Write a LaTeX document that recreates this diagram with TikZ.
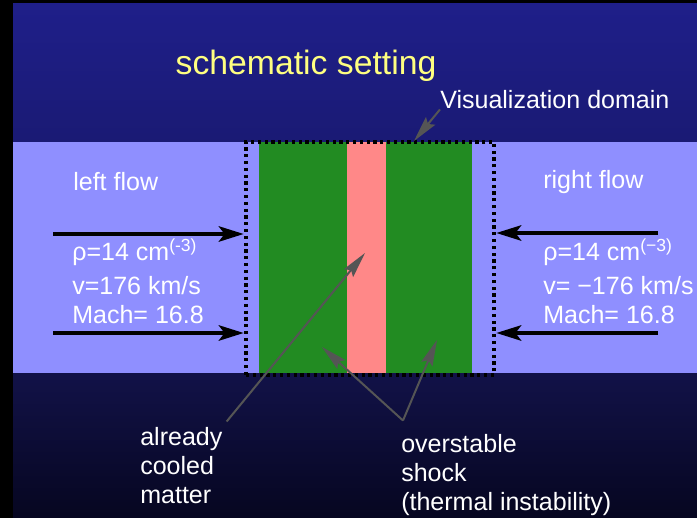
\documentclass[tikz,border=0pt]{standalone}
\usepackage{fontspec}
\setmainfont{Liberation Sans}
\usetikzlibrary{arrows.meta, positioning, calc}

\definecolor{skytop}{RGB}{31, 31, 138}
\definecolor{skylow}{RGB}{26, 26, 116}
\definecolor{deeptop}{RGB}{18, 18, 72}
\definecolor{deeplow}{RGB}{6, 6, 32}
\definecolor{flowblue}{RGB}{143, 143, 255}
\definecolor{slabgreen}{RGB}{34, 139, 34}
\definecolor{hotpink}{RGB}{255, 136, 136}
\definecolor{titleyellow}{RGB}{255, 255, 128}
\definecolor{pointgray}{RGB}{85, 85, 85}

\begin{document}
\begin{tikzpicture}[x=0.025cm, y=0.025cm,
  txt/.style={text=white, inner sep=0pt, align=left, font=\fontsize{17.8}{20.3}\selectfont},
  flowarrow/.style={line width=0.11cm, -{Stealth[length=0.62cm, width=0.38cm, inset=0.14cm]}},
  pointer/.style={draw=pointgray, line width=0.05cm, -{Stealth[length=0.65cm, width=0.3cm, inset=0.1cm]}}]
  \useasboundingbox (0,0) rectangle (697,-518);

  % background
  \shade[top color=skytop, bottom color=skylow] (0,0) rectangle (697,-142);
  \shade[top color=deeptop, bottom color=deeplow] (0,-373) rectangle (697,-518);
  \fill[black] (0,0) rectangle (13,-518);
  \fill[black] (0,0) rectangle (697,-3);

  % the two colliding flows
  \fill[flowblue] (13,-142) rectangle (697,-373);

  % slab: cooled matter around the hot layer
  \fill[slabgreen] (259,-142) rectangle (472,-373);
  \fill[hotpink] (347,-142) rectangle (386,-373);

  % visualization domain
  \node[draw=black, line width=0.11cm, dash pattern=on 0.08cm off 0.09cm, inner sep=0pt,
        minimum width=6.2cm, minimum height=5.825cm] (visbox) at (370,-258.5) {};

  \node[text=titleyellow, inner sep=0pt, font=\fontsize{24}{28}\selectfont] (title) at (306,-66) {schematic setting};

  \node[txt, anchor=west] (vislbl) at (440,-100) {Visualization domain};
  \coordinate (vistip) at (414,-141);
  \draw[pointer] (vislbl.south west) -- (vistip);

  % left flow (base = last line)
  \node[txt, anchor=west] (leftlbl) at (73,-182) {left flow};
  \node[txt, anchor=base west] (leftdata) at (72,-323)
    {ρ=14 cm\textsuperscript{(-3)}\\[4pt]v=176 km/s\\Mach= 16.8};
  \coordinate (lefttail1) at (53,-234);
  \coordinate (lefttail2) at (53,-333);
  \draw[flowarrow] (lefttail1) -- (lefttail1 -| visbox.west);
  \draw[flowarrow] (lefttail2) -- (lefttail2 -| visbox.west);

  % right flow
  \node[txt, anchor=west] (rightlbl) at (543,-182) {right flow};
  \node[txt, anchor=base west] (rightdata) at (543,-323)
    {ρ=14 cm\textsuperscript{(−3)}\\[4pt]v= −176 km/s\\Mach= 16.8};
  \coordinate (righttail1) at (658,-233);
  \coordinate (righttail2) at (658,-333);
  \draw[flowarrow] (righttail1) -- (righttail1 -| visbox.east);
  \draw[flowarrow] (righttail2) -- (righttail2 -| visbox.east);

  % labels below the slab
  \node[txt, anchor=base west] (cooled) at (140,-503) {already\\cooled\\matter};
  \node[txt, anchor=base west] (shock) at (401,-510) {overstable\\shock\\(thermal instability)};

  \coordinate (cooltip) at (365,-253);
  \draw[pointer] ($(cooled.north east)+(4,6)$) -- (cooltip);

  \coordinate (fork) at ($(shock.north west)+(2,14)$);
  \coordinate (shocktipL) at (322,-347);
  \coordinate (shocktipR) at (437,-340);
  \draw[pointer] (fork) -- (shocktipL);
  \draw[pointer] (fork) -- (shocktipR);
\end{tikzpicture}
\end{document}
